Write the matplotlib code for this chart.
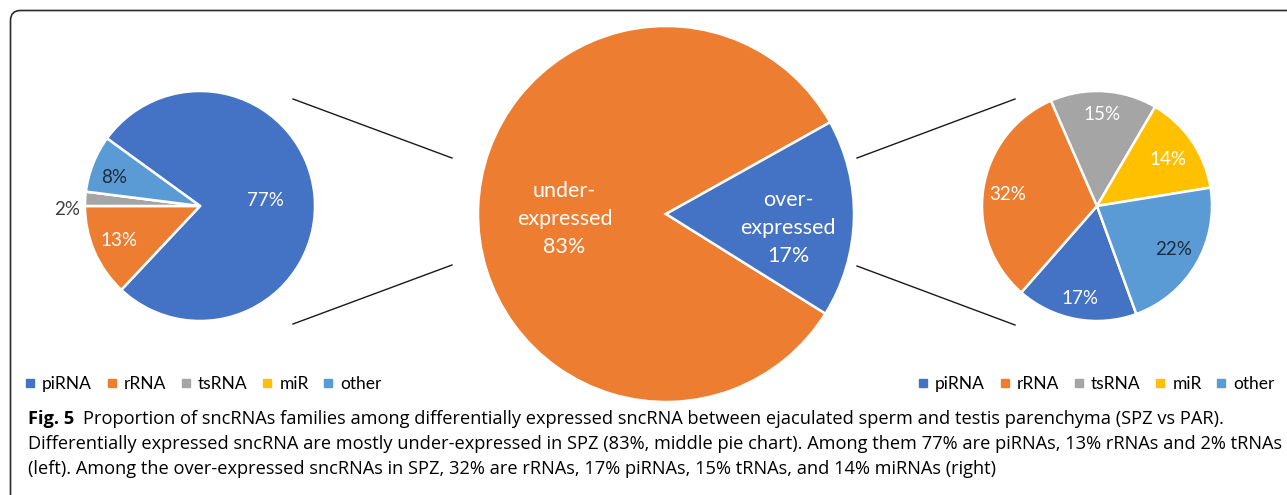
import numpy as np
import matplotlib.pyplot as plt
from matplotlib.lines import Line2D
from matplotlib.patches import FancyBboxPatch

# ---- data ----
families = ["piRNA", "rRNA", "tsRNA", "miR", "other"]
under_pct = [77, 13, 2, 0, 8]          # left pie: under-expressed in SPZ
over_pct = [17, 32, 15, 14, 22]        # right pie: over-expressed in SPZ
split_labels = ["under-\nexpressed", "over-\nexpressed"]
split_pct = [83, 17]                   # middle pie

caption_bold = "Fig. 5"
caption_lines = [
    "Proportion of sncRNAs families among differentially expressed sncRNA between ejaculated sperm and testis parenchyma (SPZ vs PAR).",
    "Differentially expressed sncRNA are mostly under-expressed in SPZ (83%, middle pie chart). Among them 77% are piRNAs, 13% rRNAs and 2% tRNAs",
    "(left). Among the over-expressed sncRNAs in SPZ, 32% are rRNAs, 17% piRNAs, 15% tRNAs, and 14% miRNAs (right)",
]

# ---- style ----
fam_colors = ["#4472C4", "#ED7D31", "#A5A5A5", "#FFC000", "#5B9BD5"]
split_colors = ["#ED7D31", "#4472C4"]
W, H = 1287, 495
pie_font = "Lato"
cap_font = "Open Sans"

fig = plt.figure(figsize=(W / 100, H / 100), dpi=100)

# overlay axes in pixel coordinates (frame, connector lines, caption)
ov = fig.add_axes([0, 0, 1, 1])
ov.set_xlim(0, W)
ov.set_ylim(H, 0)
ov.axis("off")

ov.add_patch(FancyBboxPatch((10.5, 10.5), W + 40, H + 40,
                            boxstyle="round,pad=0,rounding_size=10",
                            fc="none", ec="#2b2b2b", lw=1.2))

# connector lines between pies
for x0, y0, x1, y1 in [(293, 99, 452, 158), (293, 324, 452, 265),
                       (857, 158, 1015, 99), (857, 266, 1015, 325)]:
    ov.plot([x0, x1], [y0, y1], color="#1a1a1a", lw=1.0)


def pie_axes(cx, cy, r):
    ax = fig.add_axes([(cx - r) / W, (H - cy - r) / H, 2 * r / W, 2 * r / H])
    ax.axis("off")
    return ax


def put_labels(ax, wedges, texts, dists, dys, colors, fs, ls=1.2):
    ax.set_xlim(-1, 1)
    ax.set_ylim(-1, 1)
    for w, t, d, dy, c in zip(wedges, texts, dists, dys, colors):
        if not t:
            continue
        ang = np.deg2rad((w.theta1 + w.theta2) / 2)
        ax.text(d * np.cos(ang), d * np.sin(ang) + dy, t, ha="center", va="center",
                color=c, fontsize=fs, family=pie_font, linespacing=ls)


wedge_style = dict(edgecolor="white", linewidth=1.8)

# left pie
axL = pie_axes(200, 206, 115)
wL, _ = axL.pie(under_pct, colors=fam_colors, startangle=144, counterclock=False,
                radius=1, wedgeprops=wedge_style)
put_labels(axL, wL, [f"{v}%" if v else "" for v in under_pct],
           [0.57, 0.77, 1.16, 0.8, 0.8], [-0.01, 0.01, -0.1, 0, -0.05],
           ["white", "white", "#404040", "white", "#1f2a3a"], 13.5)

# middle pie
axM = pie_axes(666, 214, 188)
wM, _ = axM.pie(split_pct, colors=split_colors, startangle=-32, counterclock=False,
                radius=1, wedgeprops=wedge_style)
put_labels(axM, wM, [f"{l}\n{v}%" for l, v in zip(split_labels, split_pct)],
           [0.54, 0.65], [-0.04, -0.06], ["white", "white"], 15.5, ls=1.5)

# right pie
axR = pie_axes(1097, 206, 115)
wR, _ = axR.pie(over_pct, colors=fam_colors, startangle=-70, counterclock=False,
                radius=1, wedgeprops=wedge_style)
put_labels(axR, wR, [f"{v}%" for v in over_pct],
           [0.8, 0.79, 0.8, 0.75, 0.77], [-0.02, -0.02, 0, -0.02, 0.01],
           ["white", "white", "white", "white", "#1f2a3a"], 13.5)

# legends
handles = [Line2D([], [], ls="none", marker="s", markersize=5.5, color=c)
           for c in fam_colors]
for x_left in (24, 917):
    fig.legend(handles, families, loc="center left",
               bbox_to_anchor=(x_left / W, 1 - 384 / H), ncol=5, frameon=False,
               borderpad=0, borderaxespad=0, handlelength=0.7, handletextpad=0.35,
               columnspacing=0.78, prop={"family": pie_font, "size": 12.5})

# caption
cap_fs = 13.13
t0 = ov.text(28, 428, caption_bold, fontsize=cap_fs, family=cap_font,
             fontweight="bold", va="bottom", ha="left")
ov.annotate(caption_lines[0], xy=(1, 0), xycoords=t0, xytext=(6, 0),
            textcoords="offset points", fontsize=cap_fs, family=cap_font,
            va="bottom", ha="left")
for i, line in enumerate(caption_lines[1:]):
    ov.text(28, 453 + 25 * i, line, fontsize=cap_fs, family=cap_font,
            va="bottom", ha="left")

fig.savefig("out.png", dpi=100)
